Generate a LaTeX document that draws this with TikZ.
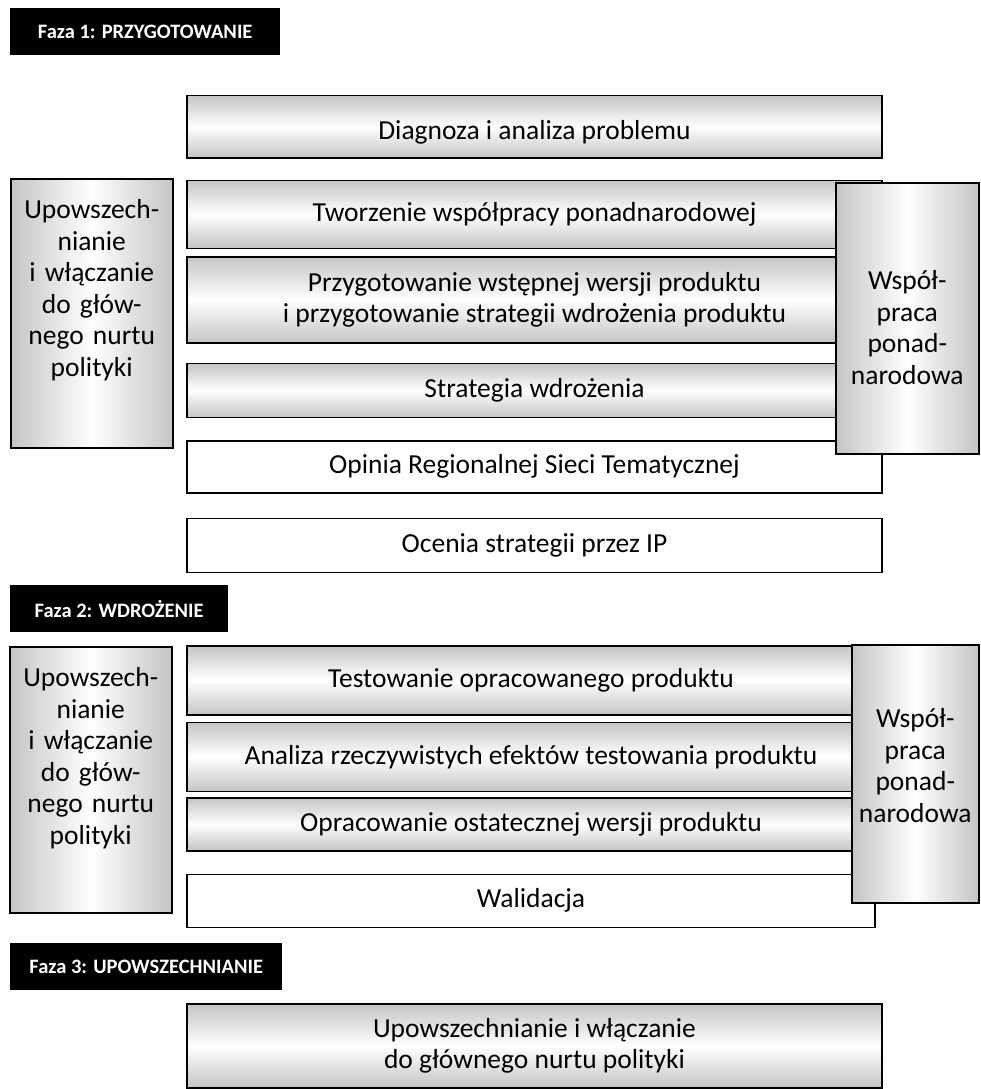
\documentclass[tikz,border=0pt]{standalone}
\usepackage{fontspec}
\setmainfont{Carlito}
\usetikzlibrary{positioning}
\tikzstyle{block} = [draw, line width=1.5pt, rectangle, inner sep=0pt,
    minimum width=695pt, align=center, font=\fontsize{27.5}{31}\selectfont]
\tikzstyle{shaded} = [block, top color=black!23, bottom color=black!23, middle color=white]
\tikzstyle{plain} = [block, fill=white]
\tikzstyle{side} = [draw, line width=1.5pt, rectangle, inner sep=0pt, align=center,
    left color=black!23, right color=black!23, middle color=white,
    font=\fontsize{27.5}{31.5}\selectfont]
\tikzstyle{phase} = [fill=black, text=white, anchor=north west, inner sep=0pt,
    minimum height=47pt, font=\bfseries\fontsize{20.5}{24}\selectfont]

\begin{document}
\begin{tikzpicture}[x=1pt, y=-1pt]
    \useasboundingbox (0,0) rectangle (980,1089);
    \node [phase, minimum width=270pt] (faza1) at (10,8) {Faza 1: PRZYGOTOWANIE};
    \node [shaded, minimum height=62pt, text height=31pt, anchor=north] (diagnoza) at (534.5,95) {Diagnoza i analiza problemu};
    \node [shaded, minimum height=68pt, below=21pt of diagnoza] (tworzenie) {Tworzenie współpracy ponadnarodowej};
    \node [shaded, minimum height=86pt, below=7pt of tworzenie] (wersja) {Przygotowanie wstępnej wersji produktu\\i przygotowanie strategii wdrożenia produktu};
    \node [shaded, minimum height=54pt, below=19pt of wersja] (strategia) {Strategia wdrożenia};
    \node [plain, minimum height=52pt, below=22pt of strategia] (opinia) {Opinia Regionalnej Sieci Tematycznej};
    \node [plain, minimum height=54pt, below=24pt of opinia] (ocena) {Ocenia strategii przez IP};
    \node [side, text width=162pt, text height=40pt, text depth=229pt, anchor=north west] (upow1) at (10,178)
        {Upowszech-\\nianie\\i włączanie\\do głów-\\nego nurtu\\polityki};
    \node [side, text width=143pt, text height=107pt, text depth=164pt, anchor=north west] (wsp1) at (835,182)
        {Współ-\\praca\\ponad-\\narodowa};

    \node [phase, minimum width=218pt] (faza2) at (10,585) {Faza 2: WDROŻENIE};
    \node [shaded, minimum width=688pt, minimum height=69pt, anchor=north] (test) at (531,645) {Testowanie opracowanego produktu};
    \node [shaded, minimum width=688pt, minimum height=69pt, below=6pt of test] (analiza) {Analiza rzeczywistych efektów testowania produktu};
    \node [shaded, minimum width=688pt, minimum height=53pt, below=5pt of analiza] (ostateczna) {Opracowanie ostatecznej wersji produktu};
    \node [plain, minimum width=688pt, minimum height=53pt, below=22pt of ostateczna] (walidacja) {Walidacja};
    \node [side, text width=162pt, text height=40pt, text depth=226pt, anchor=north west] (upow2) at (9,646)
        {Upowszech-\\nianie\\i włączanie\\do głów-\\nego nurtu\\polityki};
    \node [side, text width=127pt, text height=83pt, text depth=175pt, anchor=north west] (wsp2) at (851,644)
        {Współ-\\praca\\ponad-\\narodowa};

    \node [phase, minimum width=272pt] (faza3) at (10,943) {Faza 3: UPOWSZECHNIANIE};
    \node [shaded, minimum height=84pt, anchor=north] (upow3) at (534.5,1003) {Upowszechnianie i włączanie\\do głównego nurtu polityki};
\end{tikzpicture}
\end{document}
